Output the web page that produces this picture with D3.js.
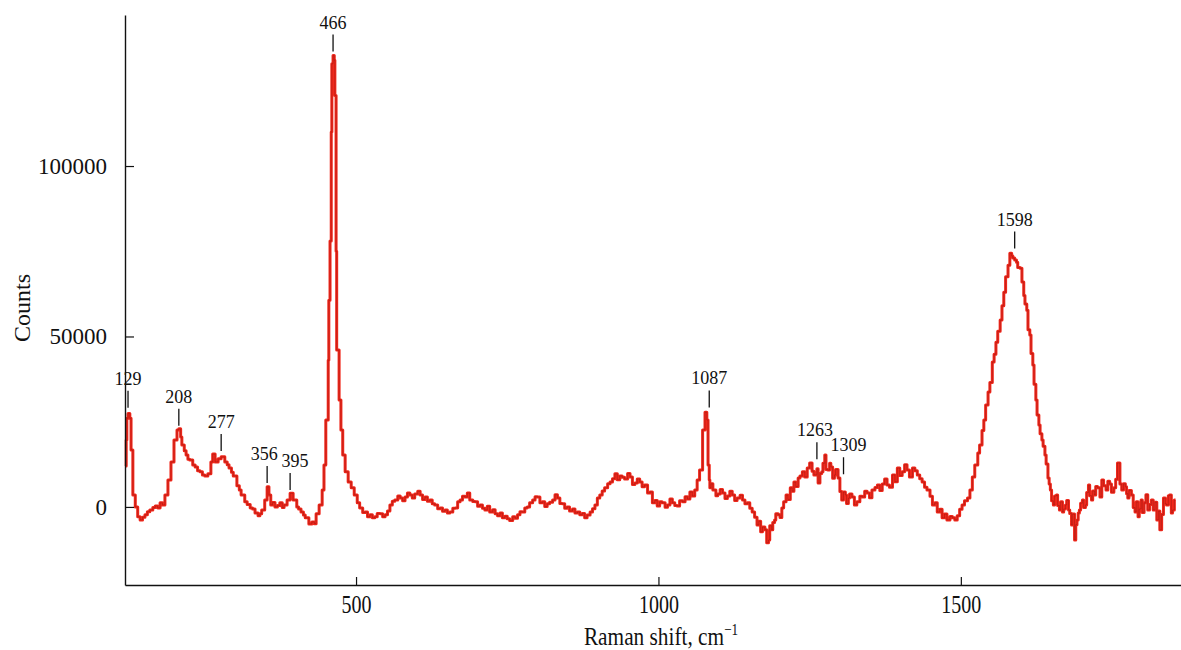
<!DOCTYPE html>
<html lang="en">
<head>
    <meta charset="UTF-8">
    <title>Raman spectrum</title>
    <script src="https://d3js.org/d3.v7.min.js"></script>
    <style>
        body { margin: 0; background: #fff; }
        svg text { font-family: "Liberation Serif", "DejaVu Serif", serif; fill: #111; }
    </style>
</head>
<body>
<div id="chart"></div>

<script>
    // Raman shift, cm-1
    const shift = [118, 120, 121, 123, 126, 128, 131, 135, 139, 143, 147, 151, 155, 159, 164, 168, 172, 176, 180, 184, 189, 194, 199, 204, 207, 210, 212, 216, 219, 222, 225, 230, 234, 238, 242, 246, 250, 255, 260, 263, 267, 272, 277, 283, 287, 290, 294, 297, 303, 307, 310, 316, 320, 325, 329, 333, 338, 341, 344, 349, 353, 356, 359, 362, 366, 370, 374, 378, 381, 386, 391, 396, 402, 405, 409, 413, 416, 422, 427, 431, 434, 439, 444, 447, 450, 454, 455, 457, 459, 460, 462, 464, 465, 467, 468, 472, 475, 478, 482, 487, 492, 497, 502, 506, 511, 515, 519, 523, 527, 531, 535, 540, 544, 548, 552, 556, 560, 564, 569, 573, 577, 581, 585, 589, 593, 597, 602, 606, 610, 614, 618, 622, 626, 630, 635, 639, 643, 647, 651, 655, 660, 664, 668, 672, 676, 680, 684, 688, 693, 697, 701, 705, 709, 713, 717, 721, 726, 730, 734, 738, 742, 746, 750, 754, 759, 763, 767, 771, 775, 779, 783, 787, 792, 796, 800, 804, 808, 812, 816, 820, 825, 829, 833, 837, 841, 845, 849, 853, 858, 862, 866, 870, 874, 878, 882, 887, 891, 895, 899, 903, 907, 911, 916, 920, 924, 928, 932, 936, 940, 944, 949, 953, 957, 961, 965, 969, 973, 977, 982, 986, 990, 994, 998, 1002, 1006, 1011, 1015, 1019, 1023, 1027, 1031, 1035, 1040, 1044, 1048, 1052, 1056, 1060, 1064, 1068, 1073, 1077, 1080, 1082, 1084, 1085, 1087, 1090, 1095, 1098, 1102, 1106, 1110, 1114, 1118, 1122, 1126, 1130, 1135, 1139, 1143, 1147, 1151, 1155, 1159, 1163, 1166, 1169, 1172, 1176, 1179, 1182, 1184, 1187, 1189, 1192, 1194, 1198, 1201, 1204, 1207, 1211, 1214, 1218, 1221, 1224, 1227, 1231, 1234, 1238, 1242, 1246, 1250, 1254, 1257, 1262, 1264, 1267, 1270, 1272, 1275, 1277, 1280, 1283, 1285, 1288, 1291, 1293, 1297, 1300, 1303, 1306, 1309, 1311, 1314, 1316, 1320, 1324, 1328, 1333, 1337, 1341, 1345, 1349, 1353, 1358, 1362, 1366, 1370, 1374, 1378, 1382, 1387, 1391, 1395, 1399, 1403, 1407, 1411, 1415, 1420, 1424, 1428, 1432, 1436, 1440, 1444, 1449, 1453, 1457, 1461, 1465, 1469, 1473, 1477, 1482, 1486, 1490, 1494, 1498, 1502, 1506, 1511, 1515, 1519, 1523, 1528, 1531, 1535, 1538, 1541, 1545, 1548, 1552, 1555, 1558, 1561, 1565, 1568, 1571, 1574, 1578, 1581, 1584, 1586, 1589, 1592, 1594, 1598, 1601, 1604, 1606, 1609, 1611, 1614, 1616, 1619, 1621, 1624, 1626, 1629, 1631, 1634, 1636, 1639, 1641, 1644, 1646, 1648, 1650, 1653, 1655, 1658, 1660, 1663, 1665, 1668, 1670, 1673, 1675, 1678, 1680, 1683, 1685, 1688, 1690, 1692, 1694, 1696, 1698, 1701, 1703, 1706, 1708, 1711, 1713, 1716, 1718, 1721, 1723, 1726, 1730, 1733, 1736, 1740, 1743, 1746, 1749, 1753, 1756, 1759, 1763, 1766, 1769, 1772, 1774, 1776, 1778, 1782, 1785, 1788, 1790, 1793, 1795, 1798, 1800, 1803, 1806, 1809, 1812, 1815, 1818, 1821, 1824, 1827, 1829, 1832, 1835, 1838, 1840, 1843, 1845, 1848, 1850, 1853, 1855, 1858, 1860, 1863];

    // Counts
    const counts = [12000, 19600, 26000, 27400, 26000, 16700, 3500, 0, -2900, -3800, -3000, -2300, -1400, -900, -200, 300, -300, 1200, 600, 3500, 7900, 13200, 19600, 22600, 22900, 20500, 18200, 16500, 15200, 14000, 13800, 12300, 11700, 10600, 10300, 9400, 9100, 9700, 13200, 15500, 13200, 14100, 14700, 13200, 12400, 11400, 10200, 9100, 6200, 5000, 3500, 1500, 700, -300, -600, -1800, -2600, -2000, -900, 2000, 5900, 3500, 600, 1300, 0, 400, 1200, -200, 600, 2000, 4000, 2000, 0, -600, -1500, -2400, -3200, -5000, -4400, -4900, -2000, 600, 5000, 12300, 25500, 43000, 60600, 78000, 110000, 130000, 132400, 131000, 120700, 75000, 46000, 31400, 22600, 15200, 10300, 7300, 5600, 3500, 1200, -300, -1600, -1500, -2900, -2300, -3200, -2900, -1900, -2000, -2900, -2300, -1200, 600, 1700, 2000, 3200, 2600, 1800, 2900, 4100, 3500, 2600, 3800, 4600, 3500, 2200, 2900, 1700, 2000, 900, 600, -500, -300, -1300, -900, -1800, -1500, -400, -300, 1500, 2000, 3100, 2900, 4100, 2000, 1600, 1500, 200, 600, -400, -900, 200, -1500, -800, -2000, -2600, -1800, -3200, -2700, -3500, -4000, -2900, -3300, -2300, -1400, -1500, -300, 0, 1200, 2000, 3000, 2900, 1200, 1500, 100, 900, 1400, 2000, 3600, 2600, 1000, 900, -400, 0, -1200, -600, -1800, -1500, -2300, -1900, -3200, -2400, -1500, -500, 600, 2600, 3500, 4700, 5600, 6800, 7300, 8300, 9700, 8000, 9100, 8700, 8200, 9800, 8800, 6600, 7000, 8200, 7300, 5900, 6400, 4100, 4400, 1200, 1900, 300, 1500, 1200, -100, 600, 2300, 1200, 400, 300, 1800, 1500, 3000, 2300, 4400, 3200, 5000, 7900, 10800, 22600, 27800, 25500, 12300, 7900, 5600, 6800, 5000, 3300, 3800, 5100, 4100, 2500, 3200, 4600, 3500, 1900, 2600, 3400, 2000, 900, 1200, -400, -1500, -3000, -5300, -4200, -7300, -5900, -6700, -10500, -9700, -5500, -6700, -4600, -3800, -2000, -2300, -3100, -300, 1500, 3500, 2200, 5600, 4600, 7300, 6000, 8500, 9100, 10300, 8800, 11400, 12900, 10500, 9400, 11200, 7000, 9800, 10300, 12800, 15200, 11000, 10800, 12800, 11700, 8400, 9400, 11000, 8500, 4500, 2000, 4400, 3500, 1000, 2600, 3800, 2900, 600, 1500, 3100, 2900, 4600, 4100, 2700, 5000, 5700, 6400, 4800, 6700, 8200, 6400, 5800, 9400, 7400, 11400, 9200, 10300, 12400, 10800, 8800, 11400, 10600, 9400, 8300, 7300, 5800, 5000, 3100, 600, 1200, -1500, -700, -3200, -2100, -3800, -2800, -3200, -3800, -2600, -700, 600, 1800, 2600, 5000, 8800, 12300, 15800, 18200, 22400, 25500, 29900, 33700, 36500, 42500, 44800, 48300, 51500, 54800, 59000, 63000, 67500, 70900, 74400, 73600, 73000, 72400, 71800, 70200, 70000, 66000, 62000, 59500, 57700, 52000, 50400, 45000, 41600, 36000, 31400, 27000, 24000, 21500, 19600, 17800, 15200, 12600, 8500, 6700, 5000, 1800, 600, 3200, 3500, 400, -900, 1500, -1500, -600, 600, 1900, -900, -1900, -5300, -2100, -9700, -5200, -3800, -1800, -900, 1100, 2000, -200, 600, 4200, 6400, 3300, 2000, 4700, 3500, 6000, 5600, 2900, 7900, 6200, 5000, 7500, 6700, 4300, 5600, 8100, 12900, 6700, 5000, 6800, 5900, 3900, 2600, 4800, 3500, -200, -1500, 1500, -2900, -600, 2000, -1600, 1200, 3600, -900, 700, 2000, -900, 1400, -3800, -1200, -6700, -2200, 2600, 900, 600, 3300, 3500, -1800, -900, 2000];

    // Peak labels, with where each tick sits (data units)
    const peakLabels = ["129", "208", "277", "356", "395", "466", "1087", "1263", "1309", "1598"];
    const peakX = [123, 207, 277, 353, 391, 462, 1084, 1262, 1306, 1589];
    const peakY = [28500, 23200, 15800, 6400, 4400, 133000, 28600, 13400, 9000, 75200];
    const labelDx = [0, 0, 0, -3, 5, 0, 0, -2, 5, 0];

    const yTicks = [0, 50000, 100000];
    const xTicks = [500, 1000, 1500];

    const width = 1181;
    const height = 650;
    const margin = {top: 15, right: 0, bottom: 65, left: 125};

    const svg = d3.select("#chart")
        .append("svg")
        .attr("width", width)
        .attr("height", height);

    const x = d3.scaleLinear()
        .domain([118, 1864])
        .range([margin.left, width - margin.right]);

    const y = d3.scaleLinear()
        .domain([-22900, 144300])
        .range([height - margin.bottom, margin.top]);

    const data = shift.map((s, i) => ({s: s, c: counts[i]}));

    // spectrum
    const line = d3.line()
        .x(d => x(d.s))
        .y(d => y(d.c))
        .curve(d3.curveStepAfter);

    svg.append("path")
        .datum(data)
        .attr("fill", "none")
        .attr("stroke", "#f0281c")
        .attr("stroke-width", 3)
        .attr("stroke-linejoin", "round")
        .attr("d", line);

    svg.append("path")
        .datum(data)
        .attr("fill", "none")
        .attr("stroke", "#5a0a08")
        .attr("stroke-opacity", 0.4)
        .attr("stroke-width", 0.7)
        .attr("d", line);

    // axes
    const xAxis = d3.axisBottom(x)
        .tickValues(xTicks)
        .tickSizeInner(-8)
        .tickSizeOuter(0)
        .tickPadding(10)
        .tickFormat(d3.format("d"));

    const yAxis = d3.axisLeft(y)
        .tickValues(yTicks)
        .tickSizeInner(-9)
        .tickSizeOuter(0)
        .tickPadding(18)
        .tickFormat(d3.format("d"));

    const gx = svg.append("g")
        .attr("transform", `translate(0,${height - margin.bottom})`)
        .call(xAxis);

    const gy = svg.append("g")
        .attr("transform", `translate(${margin.left},0)`)
        .call(yAxis);

    [gx, gy].forEach(g => {
        g.select(".domain").attr("stroke", "#111").attr("stroke-width", 1.4);
        g.selectAll(".tick line").attr("stroke", "#111").attr("stroke-width", 1.2);
        g.selectAll("text")
            .attr("font-family", "Liberation Serif, serif")
            .attr("fill", "#111");
    });

    gy.selectAll("text").attr("font-size", 23);

    // x tick labels look narrow and tall in the original
    gx.selectAll(".tick text")
        .attr("font-size", 25)
        .attr("transform", "scale(0.8,1)");

    // axis titles
    svg.append("text")
        .attr("transform", `translate(${(margin.left + width) / 2 + 8},${height - 5}) scale(0.82,1)`)
        .attr("text-anchor", "middle")
        .attr("font-size", 26)
        .html("Raman shift, cm<tspan dy='-10' font-size='16'>\u22121</tspan>");

    svg.append("text")
        .attr("transform", `translate(30,${(margin.top + height - margin.bottom) / 2 + 8}) rotate(-90)`)
        .attr("text-anchor", "middle")
        .attr("font-size", 24)
        .text("Counts");

    // peak annotations
    const peaks = peakLabels.map((l, i) => ({label: l, px: peakX[i], py: peakY[i], dx: labelDx[i]}));

    const ann = svg.append("g")
        .selectAll("g")
        .data(peaks)
        .enter().append("g")
        .attr("transform", d => `translate(${x(d.px)},${y(d.py)})`);

    ann.append("line")
        .attr("x1", 0).attr("x2", 0)
        .attr("y1", -2).attr("y2", -19)
        .attr("stroke", "#111")
        .attr("stroke-width", 1.3);

    ann.append("text")
        .attr("x", d => d.dx)
        .attr("y", -25)
        .attr("text-anchor", "middle")
        .attr("font-size", 18)
        .text(d => d.label);
</script>
</body>
</html>
